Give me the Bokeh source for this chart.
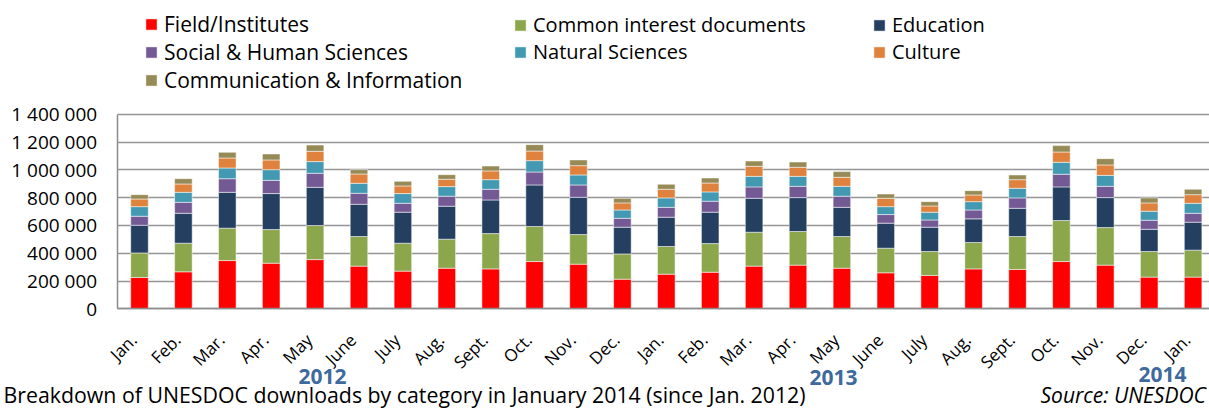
import math
from bokeh.plotting import figure
from bokeh.models import (ColumnDataSource, Range1d, FixedTicker, Legend,
                          LegendItem, Label, Grid)
from bokeh.embed import file_html
from bokeh.resources import INLINE

months = ["Jan.", "Feb.", "Mar.", "Apr.", "May", "June", "July", "Aug.",
          "Sept.", "Oct.", "Nov.", "Dec.",
          "Jan.", "Feb.", "Mar.", "Apr.", "May", "June", "July", "Aug.",
          "Sept.", "Oct.", "Nov.", "Dec.", "Jan."]

categories = ["Field/Institutes", "Common interest documents", "Education",
              "Social & Human Sciences", "Natural Sciences", "Culture",
              "Communication & Information"]

field = [225, 266, 347, 328, 354, 307, 271, 292, 287, 340, 321, 213, 249,
         263, 307, 314, 292, 259, 240, 287, 283, 340, 314, 228, 228]
common = [177, 206, 233, 242, 245, 213, 201, 209, 254, 252, 213, 182, 199,
          206, 244, 242, 228, 177, 172, 190, 237, 295, 270, 184, 194]
education = [199, 215, 258, 259, 275, 232, 223, 237, 242, 299, 268, 192, 211,
             226, 244, 244, 210, 180, 175, 170, 203, 242, 216, 160, 201]
social = [65, 79, 98, 95, 101, 79, 64, 72, 77, 93, 89, 64, 71,
          79, 82, 81, 80, 62, 52, 64, 75, 91, 81, 65, 64]
natural = [69, 72, 77, 77, 84, 72, 70, 69, 69, 82, 72, 60, 68,
           67, 76, 72, 71, 57, 56, 60, 69, 86, 79, 65, 72]
culture = [55, 60, 72, 70, 74, 67, 55, 53, 63, 69, 67, 51, 62,
           64, 72, 65, 65, 60, 45, 48, 62, 74, 75, 60, 62]
communication = [31, 38, 41, 43, 45, 31, 33, 33, 35, 46, 41, 33, 36,
                 36, 38, 38, 41, 31, 31, 31, 34, 46, 45, 36, 39]

series = [field, common, education, social, natural, culture, communication]

y_ticks = [0, 200000, 400000, 600000, 800000, 1000000, 1200000, 1400000]
y_tick_labels = ["0", "200 000", "400 000", "600 000", "800 000",
                 "1 000 000", "1 200 000", "1 400 000"]

years = ["2012", "2013", "2014"]
caption = "Breakdown of UNESDOC downloads by category in January 2014 (since Jan. 2012)"
source_text = "Source: UNESDOC"

colors = ["#FF0000", "#8BA64B", "#243F60", "#735A94", "#4399B1",
          "#DE823D", "#968B56"]

FONT = "Open Sans"

# ---- layout geometry (pixels) ----
W, H = 1209, 408
BAR0_PX, STEP_PX = 139.0, 43.9        # centre of first bar, bar pitch
AXIS_PX = 116.7                       # left axis line
ZERO_PX, TOP_PX = 308.3, 113.7        # y of 0 and of 1 400 000
YMAX = 1400000
per_px = YMAX / (ZERO_PX - TOP_PX)
x_start = -BAR0_PX / STEP_PX
x_end = (W - BAR0_PX) / STEP_PX
axis_x = (AXIS_PX - BAR0_PX) / STEP_PX
y_start = -(H - ZERO_PX) * per_px
y_end = ZERO_PX * per_px
LABEL_SHIFT = 8                       # baseline correction for Label
XLABEL_SHIFT = round(6 / STEP_PX, 4)  # month labels sit slightly left

keys = ["c%d" % i for i in range(len(categories))]
data = {"x": list(range(len(months)))}
for k, s in zip(keys, series):
    data[k] = [v * 1000 for v in s]
src = ColumnDataSource(data)

p = figure(width=W, height=H, output_backend="svg", toolbar_location=None,
           x_range=Range1d(x_start, x_end), y_range=Range1d(y_start, y_end),
           min_border=0, min_border_left=0, min_border_right=0,
           min_border_top=0, min_border_bottom=0)
p.outline_line_color = None
p.background_fill_color = "white"
p.border_fill_color = "white"

rends = p.vbar_stack(keys, x="x", width=0.4, source=src, color=colors,
                     line_color="white", line_alpha=0.5, line_width=1)

# y axis, drawn inside the frame at a fixed location
yax = p.yaxis[0]
yax.fixed_location = axis_x
yax.bounds = (0, YMAX)
yax.ticker = FixedTicker(ticks=y_ticks)
yax.major_label_overrides = {t: l for t, l in zip(y_ticks, y_tick_labels)}
yax.major_tick_out = 0
yax.major_tick_in = 0
yax.minor_tick_out = 0
yax.minor_tick_in = 0
yax.axis_line_color = "#8C8C8C"
yax.axis_line_width = 1.5
yax.major_label_standoff = 20
yax.major_label_text_font = FONT
yax.major_label_text_font_size = "19px"
yax.major_label_text_color = "black"

x_tick_pos = [round(i - XLABEL_SHIFT, 4) for i in range(len(months))]
xax = p.xaxis[0]
xax.fixed_location = 0
xax.bounds = (axis_x, x_end)
xax.ticker = FixedTicker(ticks=x_tick_pos)
xax.major_label_overrides = {t: m for t, m in zip(x_tick_pos, months)}
xax.major_label_orientation = math.pi / 4
xax.major_tick_out = 0
xax.major_tick_in = 0
xax.minor_tick_out = 0
xax.minor_tick_in = 0
xax.axis_line_color = "#8C8C8C"
xax.axis_line_width = 1.5
xax.major_label_standoff = 28
xax.major_label_text_font = FONT
xax.major_label_text_font_size = "17px"
xax.major_label_text_color = "black"

p.xgrid.grid_line_color = None
p.ygrid.ticker = FixedTicker(ticks=y_ticks)
p.ygrid.grid_line_color = "#959595"
p.ygrid.grid_line_width = 1.5
if "cross_bounds" in Grid.properties():
    p.ygrid.cross_bounds = (axis_x, x_end)

# legends: three columns
cols = [[0, 3, 6], [1, 4], [2, 5]]
col_x = [144, 513, 872]
col_y = [H - 94, H - 65.3, H - 65.3]
col_fs = ["21px", "20px", "20px"]
col_sp = [-1, 0, 0]
for idxs, lx, ly, fs, sp in zip(cols, col_x, col_y, col_fs, col_sp):
    items = [LegendItem(label=categories[i], renderers=[rends[i]]) for i in idxs]
    lg = Legend(items=items, location=(lx, ly), orientation="vertical",
                padding=0, margin=0, spacing=sp, border_line_color=None,
                background_fill_alpha=0, glyph_width=14, glyph_height=14,
                label_height=27, label_standoff=6,
                label_text_font=FONT, label_text_font_size=fs,
                label_text_color="black")
    p.add_layout(lg)

# year labels (x centre, baseline y from top, in pixels)
year_pos = [(322, 384), (833, 385), (1162, 382)]
for y, (lx, ly) in zip(years, year_pos):
    p.add_layout(Label(x=lx, y=H - ly + LABEL_SHIFT, x_units="screen",
                       y_units="screen", text=y, text_font=FONT,
                       text_font_size="21px", text_font_style="bold",
                       text_color="#3E6A9E", text_align="center",
                       text_baseline="alphabetic"))

p.add_layout(Label(x=3, y=H - 402 + LABEL_SHIFT, x_units="screen",
                   y_units="screen", text=caption, text_font=FONT,
                   text_font_size="21.3px", text_color="black",
                   text_align="left", text_baseline="alphabetic"))
p.add_layout(Label(x=1040, y=H - 402 + LABEL_SHIFT, x_units="screen",
                   y_units="screen", text=source_text, text_font=FONT,
                   text_font_size="21px", text_font_style="italic",
                   text_color="black", text_align="left",
                   text_baseline="alphabetic"))

open("out.html", "w").write(file_html(p, INLINE))
